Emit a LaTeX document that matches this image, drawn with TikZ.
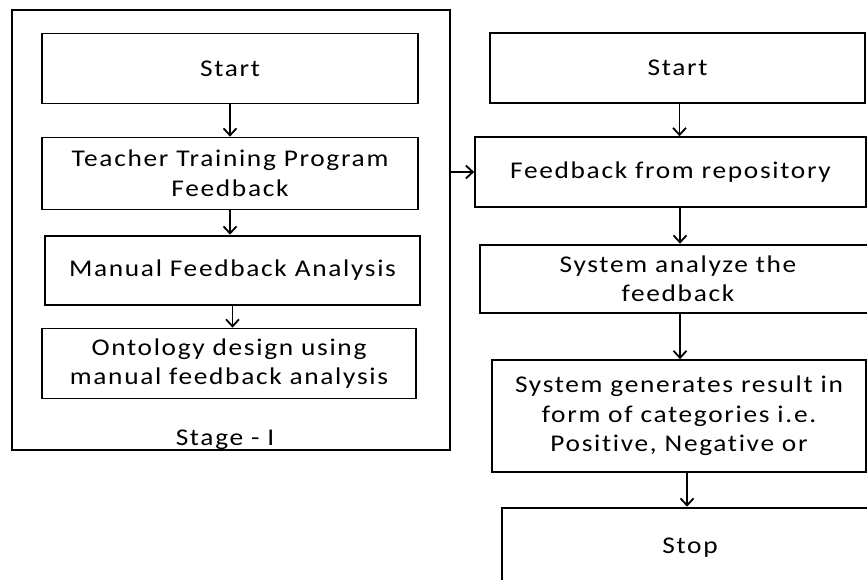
\documentclass[tikz,border=0pt]{standalone}
\usepackage{fontspec}
\setmainfont{Carlito}[FakeStretch=1.14, LetterSpace=7, RawFeature={-liga;-clig;-dlig}]
\usetikzlibrary{arrows.meta}
\tikzset{
  box/.style={draw=black, line width=1.7pt, rectangle, inner sep=0pt, align=center},
  heavy/.style={line width=2.6pt},
  arr/.style={draw=black, line width=1.8pt, -{Straight Barb[length=7pt,width=13pt,line width=1.8pt]}},
  lbl/.style={font=\fontsize{24}{29.5}\selectfont}
}
\begin{document}
\begin{tikzpicture}[x=1pt,y=-1pt]
\useasboundingbox (0,0) rectangle (867,580);
\clip (0,0) rectangle (867,580);
\fill[white] (0,0) rectangle (867,580);

% Stage I frame
\node[box, line width=2pt, minimum width=438pt, minimum height=440pt] (frame) at (231,230) {};
\node[lbl] (stage) at (225,440) {Stage - I};

% left column
\node[box, lbl, minimum width=376pt, minimum height=70pt] (s1) at (230,68.5) {Start};
\node[box, lbl, minimum width=376pt, minimum height=72pt] (t1) at (230,173.5) {Teacher Training Program\\Feedback};
\node[box, heavy, lbl, minimum width=375pt, minimum height=69pt] (m1) at (232.5,270.5) {Manual Feedback Analysis};
\node[box, lbl, minimum width=374pt, minimum height=70pt] (o1) at (229,363.5) {Ontology design using\\manual feedback analysis};

% right column
\node[box, lbl, minimum width=375pt, minimum height=70pt] (s2) at (677.5,68) {Start};
\node[box, lbl, minimum width=391pt, minimum height=70pt] (f2) at (670.5,172) {Feedback from repository};
\node[box, heavy, lbl, minimum width=396pt, minimum height=68pt] (a2) at (678,279) {System analyze the\\feedback};
\node[box, lbl, minimum width=374pt, minimum height=112pt] (g2) at (679,416) {System generates result in\\form of categories i.e.\\Positive, Negative or};
\node[box, heavy, lbl, minimum width=376pt, minimum height=80pt] (p2) at (690,548) {Stop};

% connectors
\draw[arr] (s1.south) -- (s1.south |- t1.north);
\draw[arr] (t1.south) -- (t1.south |- m1.north);
\draw[arr] (m1.south) -- (m1.south |- o1.north);
\draw[arr] ([xshift=2pt]s2.south) -- ([xshift=2pt]s2.south |- f2.north);
\draw[arr] ([xshift=2pt]a2.north |- f2.south) -- ([xshift=2pt]a2.north);
\draw[arr] ([xshift=1pt]g2.north |- a2.south) -- ([xshift=1pt]g2.north);
\draw[arr] ([xshift=8pt]g2.south) -- ([xshift=8pt]g2.south |- p2.north);
\draw[arr] (frame.east |- f2.west) -- (f2.west);
\end{tikzpicture}
\end{document}
